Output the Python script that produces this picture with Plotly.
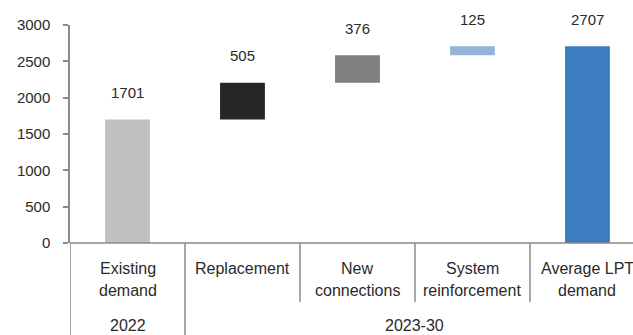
import plotly.graph_objects as go

categories = ["Existing demand", "Replacement", "New connections", "System reinforcement", "Average LPT demand"]
label_lines = [["Existing", "demand"], ["Replacement"], ["New", "connections"], ["System", "reinforcement"], ["Average LPT", "demand"]]
values = [1701, 505, 376, 125, 2707]
bases = [0, 1701, 2206, 2582, 0]
colors = ["#c0c0c0", "#262626", "#7f7f7f", "#95b3d7", "#3c7dbf"]
groups = ["2022", "2023-30"]
group_spans = [(0, 0), (1, 4)]
y_ticks = [0, 500, 1000, 1500, 2000, 2500, 3000]

W, H = 633, 335
ml, mt, mb = 70, 25, 92
plot_h = H - mt - mb
FONT = "Liberation Sans, Arial, sans-serif"
TXT = "#2a2a2a"
LINE = "#8a8a8a"

def py(pix):
    return -(pix - (H - mb)) / plot_h

xs = list(range(len(categories)))
fig = go.Figure()
fig.add_trace(go.Bar(
    x=xs, y=values, base=bases, width=0.39,
    marker=dict(color=colors, line=dict(width=0)),
    hoverinfo="skip", showlegend=False,
))

ann = []
for i, (v, b) in enumerate(zip(values, bases)):
    ann.append(dict(x=i, y=b + v, xref="x", yref="y", text=str(v), showarrow=False,
                    yanchor="middle", yshift=27, font=dict(family=FONT, size=15, color=TXT)))
for i, lines in enumerate(label_lines):
    for j, t in enumerate(lines):
        ann.append(dict(x=i, y=py(268 + 22 * j), xref="x", yref="paper", text=t, showarrow=False,
                        yanchor="middle", font=dict(family=FONT, size=16, color=TXT)))
for g, (a, b) in zip(groups, group_spans):
    ann.append(dict(x=(a + b) / 2, y=py(325), xref="x", yref="paper", text=g, showarrow=False,
                    yanchor="middle", font=dict(family=FONT, size=16, color=TXT)))

shapes = []
# x axis line
shapes.append(dict(type="line", xref="paper", yref="paper", x0=0, x1=1, y0=0, y1=0,
                   line=dict(color=LINE, width=1.5)))
# category dividers
for k in range(len(categories) - 1):
    bx = k + 0.5
    full = any(bx == s[0] - 0.5 for s in group_spans)
    shapes.append(dict(type="line", xref="x", yref="paper", x0=bx, x1=bx, y0=0,
                       y1=py(335) if full else py(302), line=dict(color=LINE, width=1.5)))
# left axis extension
shapes.append(dict(type="line", xref="x", yref="paper", x0=-0.5, x1=-0.5, y0=0, y1=py(335),
                   line=dict(color=LINE, width=1.5)))

fig.update_layout(
    width=W, height=H,
    margin=dict(l=ml, r=0, t=mt, b=mb),
    paper_bgcolor="white", plot_bgcolor="white",
    xaxis=dict(range=[-0.5, 4.396], showticklabels=False, showgrid=False, zeroline=False,
               showline=False, ticks=""),
    yaxis=dict(range=[0, 3000], tickvals=y_ticks, showgrid=False, zeroline=False,
               showline=True, linecolor=LINE, linewidth=1.5, ticks="outside", ticklen=5,
               tickcolor=LINE, tickwidth=1.5, ticklabelstandoff=10,
               tickfont=dict(family=FONT, size=15, color=TXT)),
    annotations=ann, shapes=shapes,
)
fig.write_html("out.html")
